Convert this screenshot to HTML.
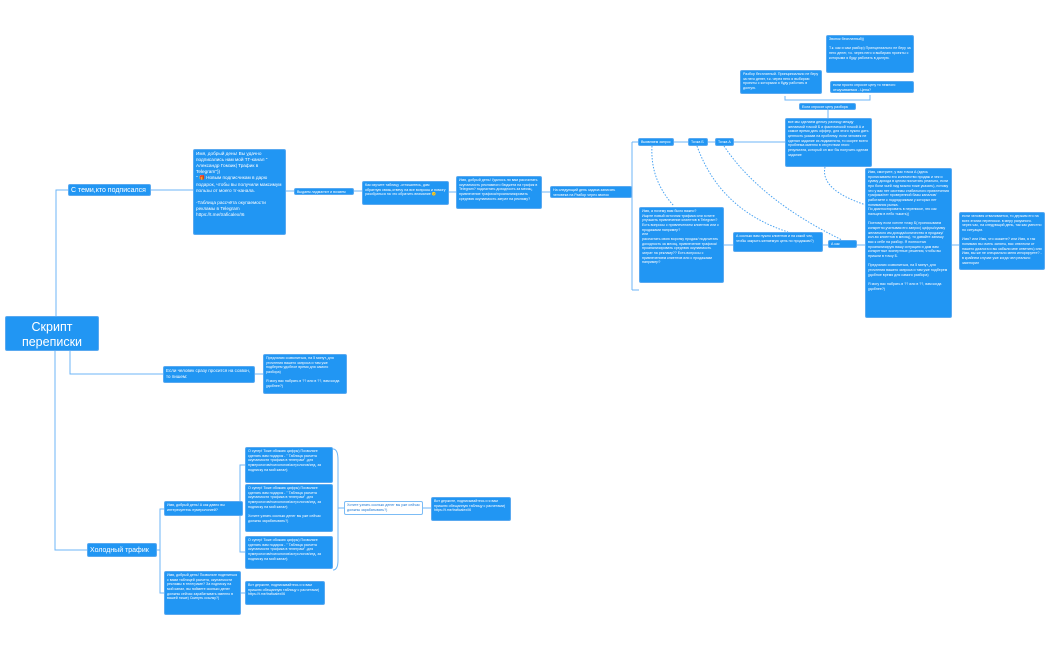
<!DOCTYPE html>
<html><head><meta charset="utf-8"><style>
body{margin:0;width:1050px;height:650px;background:#fff;position:relative;overflow:hidden;font-family:"Liberation Sans","Noto Sans CJK SC",sans-serif}
.b{position:absolute;background:#2196f3;color:#fff;border-radius:2px;box-sizing:border-box;padding:1px 2px;font-size:3.6px;line-height:1.3;overflow:hidden;border:0.5px solid #5aa9f0}
.w{background:#fff;color:#1e7ad6;border:1px solid #7cbcf5}
svg{position:absolute;left:0;top:0}
</style></head><body>
<svg width="1050" height="650" fill="none" stroke="#6cb6f7" stroke-width="1">
<path d="M56 316 V190 H68"/>
<path d="M70 351 V374 H163"/>
<path d="M55 351 V550 H87"/>
<path d="M151 190 H193"/>
<path d="M286 191 H294"/><path d="M354 191 H362"/><path d="M449 192 H456"/><path d="M542 192 H550"/>
<path d="M632 192 H632 M632 142 V290 M632 142 H638 M632 290 H639"/>
<path d="M674 142 H688 M708 142 H715 M734 142 H785"/>
<path d="M828 118 V110 M785 96 V100 H870 V95"/>
<path d="M724 245 H733 M823 245 H828 M857 245 H865 M952 245 H959"/>
<path d="M255 374 H263"/>
<path d="M157 550 H160 V509 H164 M160 550 V593 H164"/>
<path d="M243 509 H240 V465 H245 M240 509 V552 H245 M241 593 H245"/>
<path d="M333 449 Q338 449 338 460 V560 Q338 570 333 570 M338 508 H344"/>
<path d="M423 508 H431"/>
<g stroke-dasharray="1.5 1.5" stroke="#4aa3f2">
<path d="M652 146 Q650 180 674 206"/>
<path d="M697 146 Q720 210 788 232"/>
<path d="M724 146 Q760 200 842 240"/>
<path d="M825 167 Q820 190 866 205"/>
</g>
</svg>
<div class="b" style="left:5px;top:316px;width:94px;height:35px;font-size:12.5px;line-height:15px;text-align:center;padding-top:3px">Скрипт<br>переписки</div>
<div class="b" style="left:68px;top:184px;width:83px;height:12px;font-size:7px;line-height:10px">С теми,кто подписался</div>
<div class="b" style="left:193px;top:149px;width:93px;height:86px;font-size:4.7px">Имя, добрый день! Вы удачно подписались нам мой ТГ-канал " Александр Гомзик| Трафик в Telegram"))<br>" 🎁 Новым подписчикам в дарю подарок, чтобы вы получили максимум пользы от моего тг-канала.<br><br>-Таблица рассчёта окупаемости рекламы в Telegram<br>https://t.me/traficalex/I6</div>
<div class="b" style="left:294px;top:188px;width:60px;height:7px">Выдаем ладмагнит и возмем</div>
<div class="b" style="left:362px;top:181px;width:87px;height:24px">Как изучите таблицу -отпишитесь, дам обратную связь,отвечу на все вопросы и помогу разобраться на что обратить внимание 🙂</div>
<div class="b" style="left:456px;top:176px;width:86px;height:33px">Имя, добрый день! Удалось ли вам рассчитать окупаемость рекламного бюджета на трафик в Telegram? подсчитать доходность за месяц, привлечение трафика/проанализировать среднюю окупаемость затрат на рекламу?</div>
<div class="b" style="left:550px;top:186px;width:82px;height:12px">На следующий день задача записать человека на Разбор через звонок</div>
<div class="b" style="left:638px;top:138px;width:36px;height:8px">Выявляем запрос</div>
<div class="b" style="left:688px;top:138px;width:20px;height:8px">Точка Б</div>
<div class="b" style="left:715px;top:138px;width:19px;height:8px">Точка А</div>
<div class="b" style="left:785px;top:118px;width:87px;height:49px">все мы сделаем дельту разницу между желаемой точкой Б и фактической точкой А и самое время дать оффер, для этого нужно дать ценность указав на проблему. если человек не сделал задание из лидмагнита, то скорее всего проблема именно в отсутствии этого результата, который он мог бы получить сделав задание</div>
<div class="b" style="left:799px;top:103px;width:57px;height:7px">Если спросят цену разбора</div>
<div class="b" style="left:740px;top:70px;width:82px;height:24px">Разбор бесплатный. Принципиально не беру за него денег, т.к. через него я выбираю проекты с которыми я буду работать в долгую.</div>
<div class="b" style="left:826px;top:35px;width:88px;height:38px">Звонок бесплатный))<br><br>Т.к. как и сам разбор) Принципиально не беру за него денег, т.к. через него я выбираю проекты с которыми я буду работать в долгую.</div>
<div class="b" style="left:830px;top:81px;width:84px;height:12px">если просто спросят цену то немного отшучиваемся - Цена?</div>
<div class="b" style="left:639px;top:207px;width:85px;height:76px">Имя, а почему вам было важно?<br>Ищите новый источник трафика или хотите улучшить привлечение клиентов в Telegram?<br>Есть вопросы с привлечением клиентов или с продажами например?<br>или<br>рассчитать свою воронку продаж/ подсчитать доходность за месяц, привлечение трафика/проанализировать среднюю окупаемость затрат на рекламу?? Есть вопросы с привлечением клиентов или с продажами например?</div>
<div class="b" style="left:733px;top:232px;width:90px;height:20px">А сколько вам нужно клиентов и на какой чек, чтобы закрыть желаемую цель по продажам?)</div>
<div class="b" style="left:828px;top:240px;width:29px;height:8px">А как сейчас?</div>
<div class="b" style="left:865px;top:168px;width:87px;height:150px">Имя, смотрите, у вас точка А (здесь прописываем его количество продаж и чек и сумму дохода в целом посчитать реально, если про боли чьей лид можно тоже указать), потому что у вас нет системы стабильного привлечения трафика/нет проверенной базы каналов/ работаете с подрядчиками у которых нет понимания рынка.<br>По диагностировать в переписке, это как пальцем в небо тыкать))<br><br>Поэтому если хотите точку Б( прописываем конкретно,учитывая его запрос) цифры/сумму желаемого им дохода/количество в продажу/кол-во клиентов в месяц), то давайте запишу вас к себе на разбор. Я полностью проанализирую вашу ситуацию и дам вам конкретные экспертные решения, чтобы вы пришли в точку Б.<br><br>Предлагаю созвониться, на 5 минут, для уточнения вашего запроса и там уже подберем удобное время для самого разбора)<br><br>Я могу вас набрать в ?? или в ??, вам когда удобнее?)</div>
<div class="b" style="left:959px;top:212px;width:86px;height:58px">если человек отваливается, то держим его на всех этапах переписки. в меру разумного. через час, на следующий день, так как уместно по ситуации.<br><br>Имя? или Имя, что скажете? или Имя, я так понимаю вы очень заняты, вас отвлекли от нашего диалога и вы забыли мне ответить) или Имя, вы же не специально меня игнорируете? - в крайнем случае уже когда чел реально заигнорил</div>
<div class="b" style="left:163px;top:366px;width:92px;height:17px;font-size:4.5px">Если человек сразу просится на созвон, то пишем:</div>
<div class="b" style="left:263px;top:354px;width:84px;height:40px">Предлагаю созвониться, на 5 минут, для уточнения вашего запроса и там уже подберем удобное время для самого разбора)<br><br>Я могу вас набрать в ?? или в ??, вам когда удобнее?)</div>
<div class="b" style="left:87px;top:543px;width:70px;height:14px;font-size:7px;line-height:12px">Холодный трафик</div>
<div class="b" style="left:164px;top:501px;width:79px;height:15px">Имя, добрый день! А как давно вы интересуетесь нумерологией?</div>
<div class="b" style="left:164px;top:571px;width:77px;height:44px">Имя, добрый день! Позвольте поделиться с вами таблицей расчета, окупаемости рекламы в телеграме? За подписку на мой канал, вы поймете сколько денег должны сейчас зарабатывать именно в вашей нише) Скинуть ссылку?)</div>
<div class="b" style="left:245px;top:447px;width:88px;height:36px">О супер! Тоже обожаю цифры) Позвольте сделать вам подарок - " Таблица расчета окупаемости трафика в телеграм" ,для нумерологов/психологов/астрологов/итд, за подписку на мой канал)</div>
<div class="b" style="left:245px;top:484px;width:88px;height:48px">О супер! Тоже обожаю цифры) Позвольте сделать вам подарок - " Таблица расчета окупаемости трафика в телеграм" ,для нумерологов/психологов/астрологов/итд, за подписку на мой канал)<br><br>Хотите узнать сколько денег вы уже сейчас должны зарабатывать?)</div>
<div class="b" style="left:245px;top:536px;width:88px;height:33px">О супер! Тоже обожаю цифры) Позвольте сделать вам подарок - " Таблица расчета окупаемости трафика в телеграм" ,для нумерологов/психологов/астрологов/итд, за подписку на мой канал)</div>
<div class="b w" style="left:344px;top:501px;width:79px;height:14px">Хотите узнать сколько денег вы уже сейчас должны зарабатывать?)</div>
<div class="b" style="left:431px;top:497px;width:80px;height:24px">Вот держите, подписывайтесь и я вам пришлю обещанную таблицу с расчетами) https://t.me/traficalex/I6</div>
<div class="b" style="left:245px;top:581px;width:80px;height:24px">Вот держите, подписывайтесь и я вам пришлю обещанную таблицу с расчетами) https://t.me/traficalex/I6</div>
</body></html>
